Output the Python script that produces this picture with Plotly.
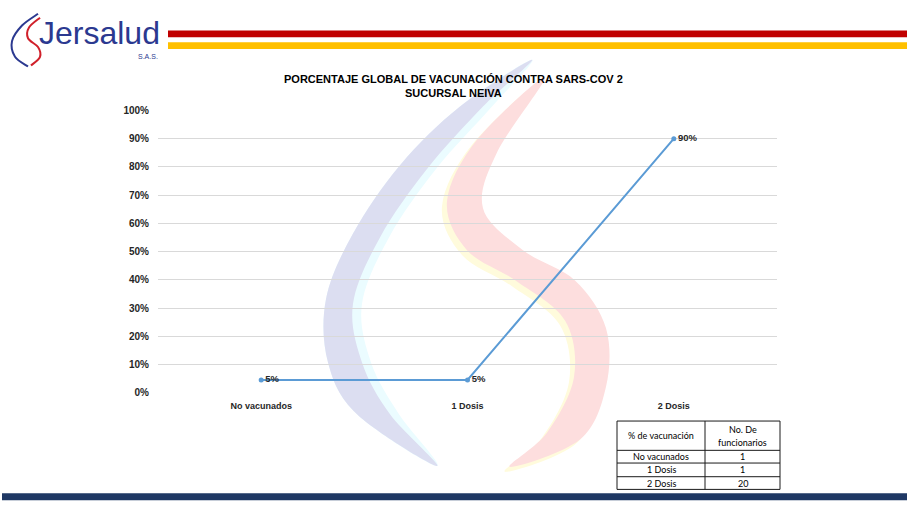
import plotly.graph_objects as go

W, H = 907, 512

# ---- data ----
categories = ["No vacunados", "1 Dosis", "2 Dosis"]
pct_values = [0.045, 0.045, 0.90]
pct_labels = ["5%", "5%", "90%"]
y_ticks = [0, 0.1, 0.2, 0.3, 0.4, 0.5, 0.6, 0.7, 0.8, 0.9, 1.0]
y_tick_text = ["0%", "10%", "20%", "30%", "40%", "50%", "60%", "70%", "80%", "90%", "100%"]
table_header_1 = "% de vacunación"
table_header_2 = ["No. De", "funcionarios"]
table_counts = [1, 1, 20]
title_lines = ["PORCENTAJE GLOBAL DE VACUNACIÓN CONTRA SARS-COV 2", "SUCURSAL NEIVA"]


def px(x):
    return x / W


def py(y):
    return 1 - y / H


def smooth_path(pts, closed=True):
    n = len(pts)
    P = [(px(x), py(y)) for x, y in pts]
    d = "M %.5f,%.5f" % P[0]
    rng = range(n) if closed else range(n - 1)
    for i in rng:
        p0 = P[(i - 1) % n] if (closed or i > 0) else P[i]
        p1 = P[i]
        p2 = P[(i + 1) % n]
        p3 = P[(i + 2) % n] if (closed or i + 2 < n) else P[(i + 1) % n]
        c1 = (p1[0] + (p2[0] - p0[0]) / 6, p1[1] + (p2[1] - p0[1]) / 6)
        c2 = (p2[0] - (p3[0] - p1[0]) / 6, p2[1] - (p3[1] - p1[1]) / 6)
        d += " C %.5f,%.5f %.5f,%.5f %.5f,%.5f" % (c1[0], c1[1], c2[0], c2[1], p2[0], p2[1])
    if closed:
        d += " Z"
    return d


def band(a, b, dx=0, dy=0):
    pts = [(x + dx, y + dy) for x, y in a] + [(x + dx, y + dy) for x, y in reversed(b[1:-1])]
    return smooth_path(pts)


blue_outer = [(532, 55), (460, 103), (400, 163), (353, 233), (326, 300), (328, 365), (357, 418), (437, 471)]
blue_inner = [(532, 55), (483, 103), (427, 167), (380, 237), (353, 305), (362, 365), (390, 418), (441, 471)]
cyan_inner = [(532, 55), (492, 103), (436, 167), (389, 237), (362, 305), (371, 365), (399, 418), (446, 471)]
red_a = [(545, 73), (477, 137), (447, 200), (467, 250), (517, 282), (565, 322), (574, 380), (547, 437), (510, 472)]
red_b = [(545, 73), (497, 150), (483, 207), (523, 250), (575, 281), (606, 330), (606, 390), (580, 444), (510, 472)]

shapes = []
# watermark
shapes.append(dict(type="path", xref="paper", yref="paper", layer="below",
                   path=band(blue_outer, cyan_inner), fillcolor="#ebfcff", line=dict(width=0)))
shapes.append(dict(type="path", xref="paper", yref="paper", layer="below",
                   path=band(blue_outer, blue_inner), fillcolor="#dcdef1", line=dict(width=0)))
shapes.append(dict(type="path", xref="paper", yref="paper", layer="below",
                   path=band(red_a, red_b, -5, 5), fillcolor="#fffbdc", line=dict(width=0)))
shapes.append(dict(type="path", xref="paper", yref="paper", layer="below",
                   path=band(red_a, red_b), fillcolor="#fddede", line=dict(width=0)))

# header bars
shapes.append(dict(type="rect", xref="paper", yref="paper", x0=px(168), x1=px(907), y0=py(25), y1=py(32),
                   fillcolor="#c00000", line=dict(width=0)))
shapes.append(dict(type="rect", xref="paper", yref="paper", x0=px(168), x1=px(907), y0=py(37), y1=py(44),
                   fillcolor="#ffc000", line=dict(width=0)))
# footer bar
shapes.append(dict(type="rect", xref="paper", yref="paper", x0=px(2), x1=px(907), y0=py(499), y1=py(506),
                   fillcolor="#1f3864", line=dict(width=0)))

# logo swirl
shapes.append(dict(type="path", xref="paper", yref="paper",
                   path=smooth_path([(38, 8), (22, 20), (12, 36), (15, 52), (28, 62)], closed=False),
                   line=dict(color="#2b3990", width=2)))
shapes.append(dict(type="path", xref="paper", yref="paper",
                   path=smooth_path([(40, 12), (29, 22), (28, 33), (38, 42), (40, 52), (31, 61)], closed=False),
                   line=dict(color="#d0202a", width=2)))

# table grid
tx = [617, 705, 780]
ty = [425, 455, 468, 482, 495]
for x in tx:
    shapes.append(dict(type="line", xref="paper", yref="paper", x0=px(x), x1=px(x), y0=py(ty[0]), y1=py(ty[-1]),
                       line=dict(color="#1a1a1a", width=1)))
for y in ty:
    shapes.append(dict(type="line", xref="paper", yref="paper", x0=px(tx[0]), x1=px(tx[-1]), y0=py(y), y1=py(y),
                       line=dict(color="#1a1a1a", width=1)))

fig = go.Figure()
fig.add_trace(go.Scatter(
    x=categories, y=pct_values, mode="lines+markers+text",
    text=["<b>" + t + "</b>" for t in pct_labels], textposition="middle right",
    textfont=dict(family="Liberation Sans", size=9.5, color="#262626"),
    line=dict(color="#5b9bd5", width=2), marker=dict(color="#5b9bd5", size=5),
    cliponaxis=False, hoverinfo="skip", showlegend=False,
))

tfont = dict(family="Lato", size=9, color="#000000")
annotations = [
    dict(text="<b>" + title_lines[0] + "</b>", x=px(453), y=py(75), xref="paper", yref="paper",
         showarrow=False, xanchor="center", yanchor="middle",
         font=dict(family="Liberation Sans", size=11, color="#000000")),
    dict(text="<b>" + title_lines[1] + "</b>", x=px(453), y=py(89), xref="paper", yref="paper",
         showarrow=False, xanchor="center", yanchor="middle",
         font=dict(family="Liberation Sans", size=11, color="#000000")),
    dict(text="Jersalud", x=px(37), y=py(28), xref="paper", yref="paper",
         showarrow=False, xanchor="left", yanchor="middle",
         font=dict(family="Liberation Sans", size=32, color="#2b3990")),
    dict(text="S.A.S.", x=px(148), y=py(52), xref="paper", yref="paper",
         showarrow=False, xanchor="center", yanchor="middle",
         font=dict(family="Liberation Sans", size=7, color="#2b3990")),
    dict(text=table_header_1, x=px((tx[0] + tx[1]) / 2), y=py(440), xref="paper", yref="paper",
         showarrow=False, xanchor="center", yanchor="middle", font=tfont),
    dict(text=table_header_2[0], x=px((tx[1] + tx[2]) / 2), y=py(434), xref="paper", yref="paper",
         showarrow=False, xanchor="center", yanchor="middle", font=tfont),
    dict(text=table_header_2[1], x=px((tx[1] + tx[2]) / 2), y=py(447), xref="paper", yref="paper",
         showarrow=False, xanchor="center", yanchor="middle", font=tfont),
]
for i, (cat, cnt) in enumerate(zip(categories, table_counts)):
    yc = (ty[i + 1] + ty[i + 2]) / 2
    annotations.append(dict(text=cat, x=px((tx[0] + tx[1]) / 2), y=py(yc), xref="paper", yref="paper",
                            showarrow=False, xanchor="center", yanchor="middle", font=tfont))
    annotations.append(dict(text=str(cnt), x=px((tx[1] + tx[2]) / 2), y=py(yc), xref="paper", yref="paper",
                            showarrow=False, xanchor="center", yanchor="middle", font=tfont))

fig.update_layout(
    width=W, height=H,
    margin=dict(l=0, r=0, t=0, b=0),
    paper_bgcolor="white", plot_bgcolor="rgba(0,0,0,0)",
    shapes=shapes, annotations=annotations,
    xaxis=dict(domain=[px(158), px(777)], range=[-0.5, 2.5], showgrid=False, zeroline=False,
               showline=False, ticks="", ticklabelstandoff=6,
               tickfont=dict(family="Liberation Sans", size=9, color="#262626"),
               tickprefix="<b>", ticksuffix="</b>", fixedrange=True),
    yaxis=dict(domain=[py(396), py(107)], range=[0, 1.0], tickvals=y_ticks,
               ticktext=["<b>" + t + "</b>" for t in y_tick_text],
               showgrid=True, gridcolor="#d9d9d9", gridwidth=1, zeroline=False, showline=False,
               ticks="", ticklabelstandoff=8,
               tickfont=dict(family="Liberation Sans", size=10, color="#262626"), fixedrange=True),
)

fig.write_html("out.html", config={"displayModeBar": False},
               post_script="document.body.style.margin='0';")
